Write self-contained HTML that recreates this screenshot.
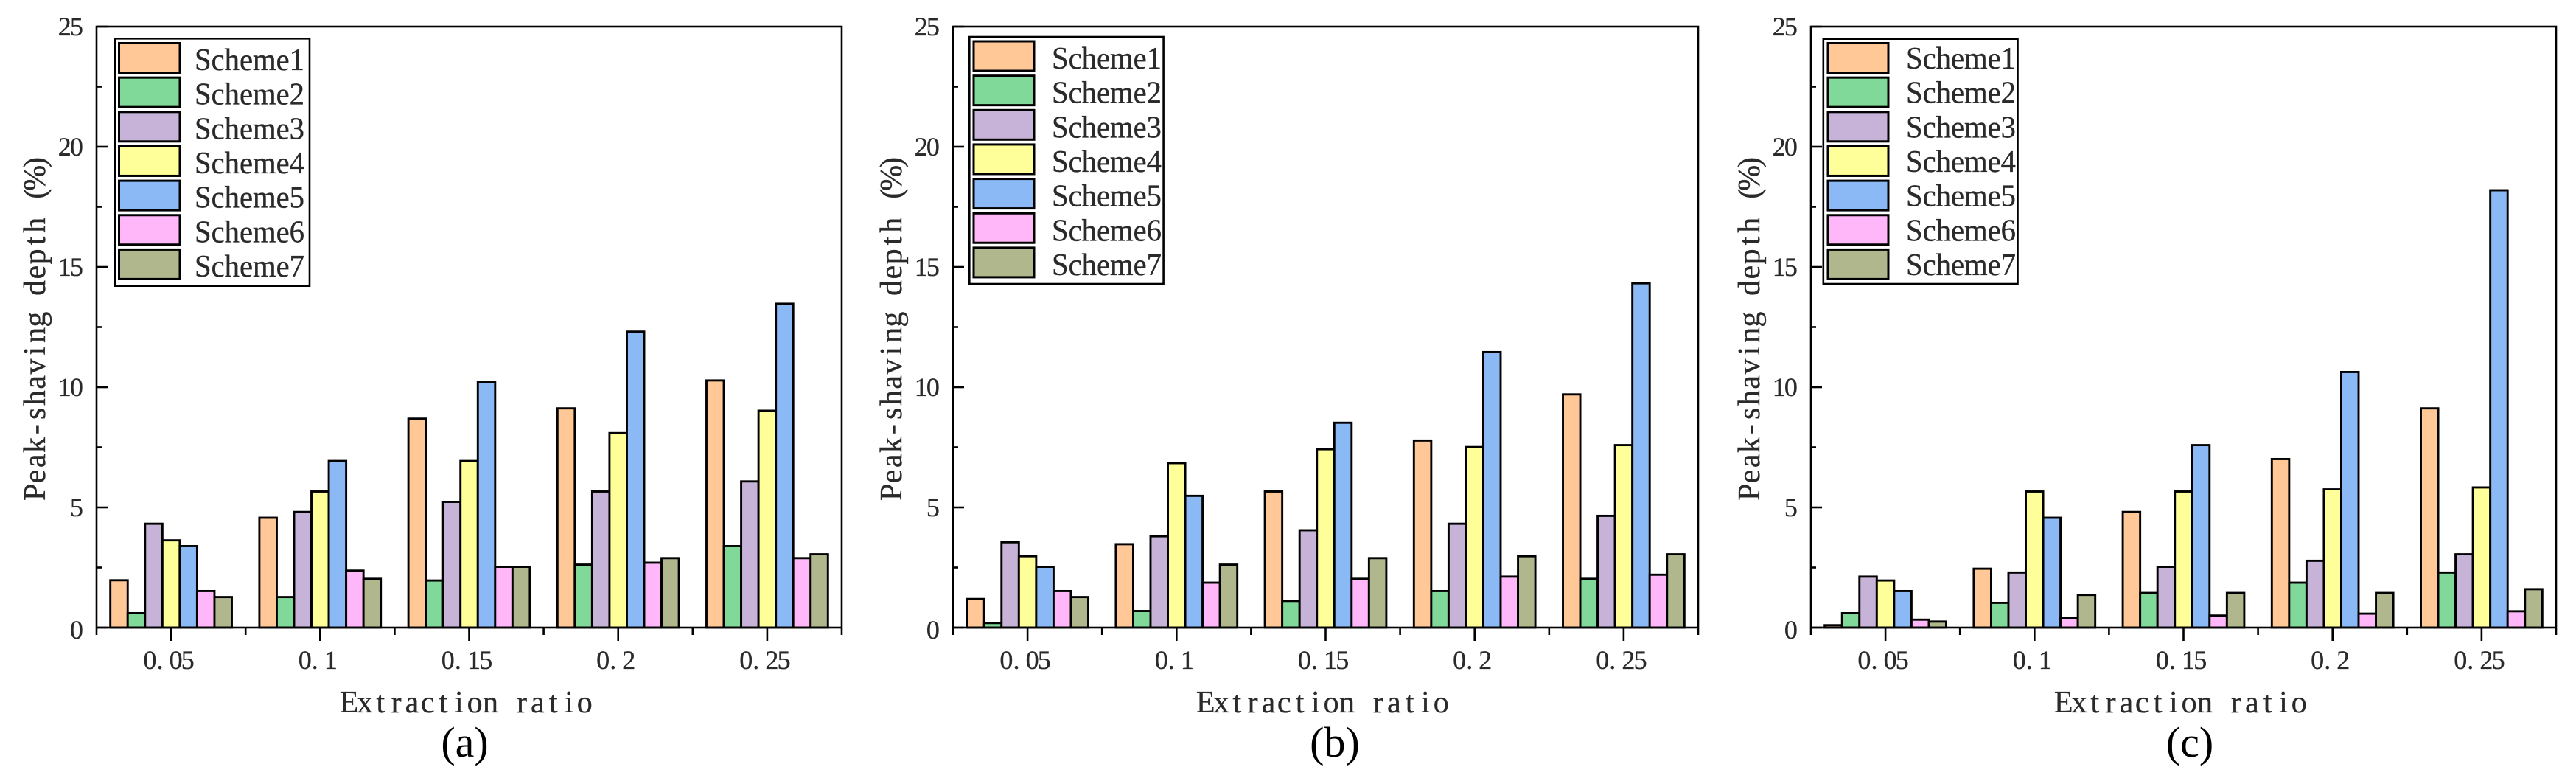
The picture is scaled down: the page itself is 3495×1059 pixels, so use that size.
<!DOCTYPE html>
<html lang="en">
<head>
<meta charset="utf-8">
<title>Peak-shaving depth versus extraction ratio</title>
<style>
  html, body { margin: 0; padding: 0; background: #fff; }
  svg { display: block; }
  text { font-family: "Liberation Serif", serif; fill: #2a2a2a; stroke: #2a2a2a; stroke-width: 0.35px; white-space: pre; }
</style>
</head>
<body>
<svg id="figure" xmlns="http://www.w3.org/2000/svg" width="3495" height="1059" viewBox="0 0 3495 1059">
  <rect x="0" y="0" width="3495" height="1059" fill="#ffffff"/>
</svg>
<script>
const schemeNames = ['Scheme1', 'Scheme2', 'Scheme3', 'Scheme4', 'Scheme5', 'Scheme6', 'Scheme7'];
const categories = ['0.05', '0.1', '0.15', '0.2', '0.25'];
const yTickLabels = [0, 5, 10, 15, 20, 25];
const yMinorTicks = [2.5, 7.5, 12.5, 17.5, 22.5];
const yAxisTitle = 'Peak-shaving depth (%)';
const xAxisTitle = 'Extraction ratio';

const panelAValues = [
  [1.97, 4.57, 8.69, 9.12, 10.28],
  [0.60, 1.27, 1.96, 2.62, 3.39],
  [4.32, 4.81, 5.23, 5.66, 6.08],
  [3.63, 5.66, 6.93, 8.09, 9.02],
  [3.39, 6.93, 10.20, 12.31, 13.47],
  [1.52, 2.37, 2.53, 2.70, 2.89],
  [1.27, 2.03, 2.53, 2.89, 3.05]
];
const panelBValues = [
  [1.19, 3.47, 5.66, 7.78, 9.70],
  [0.19, 0.69, 1.11, 1.52, 2.03],
  [3.55, 3.80, 4.05, 4.32, 4.65],
  [2.97, 6.84, 7.42, 7.51, 7.59],
  [2.53, 5.48, 8.52, 11.46, 14.32],
  [1.52, 1.87, 2.03, 2.12, 2.20],
  [1.27, 2.62, 2.89, 2.97, 3.05]
];
const panelCValues = [
  [0.10, 2.45, 4.81, 7.01, 9.12],
  [0.60, 1.03, 1.44, 1.87, 2.29],
  [2.12, 2.29, 2.53, 2.78, 3.05],
  [1.96, 5.66, 5.66, 5.75, 5.83],
  [1.52, 4.57, 7.59, 10.63, 18.19],
  [0.33, 0.41, 0.50, 0.58, 0.68],
  [0.25, 1.36, 1.44, 1.44, 1.60]
];

const schemeColors = ['#FFC896', '#80D998', '#C8B3D8', '#FFFF99', '#8AB9F5', '#FFB7FA', '#B0B78C'];

const panelLayouts = [
  { id: 'a', caption: '(a)', values: panelAValues, left: 131, captionX: 630.5,
    legend: { left: 155.7, right: 420, top: 52.3, bottom: 387.7, swatchLeft: 161.5, swatchRight: 244, swatchTop: 58.5, textX: 264, baseline: 95 } },
  { id: 'b', caption: '(b)', values: panelBValues, left: 1293, captionX: 1811,
    legend: { left: 1315.3, right: 1578.6, top: 50, bottom: 385, swatchLeft: 1321, swatchRight: 1403, swatchTop: 56, textX: 1427, baseline: 93 } },
  { id: 'c', caption: '(c)', values: panelCValues, left: 2457, captionX: 2971,
    legend: { left: 2473.8, right: 2737.5, top: 52.7, bottom: 385, swatchLeft: 2480, swatchRight: 2562, swatchTop: 58.5, textX: 2586, baseline: 93 } }
];

const SVG_NS = 'http://www.w3.org/2000/svg';
const figure = document.getElementById('figure');
const plotWidth = 1011;
const plotTop = 36;
const plotBottom = 851;
const yMax = 25;
const groupFill = 0.815;
const lineW = 2.6;
const barLineW = 2.9;
const measureCtx = document.createElement('canvas').getContext('2d');

function yScale(v) { return plotBottom - (v / yMax) * (plotBottom - plotTop); }
function bandWidth() { return plotWidth / categories.length; }
function xCenter(left, i) { return left + (i + 0.5) * bandWidth(); }
function barWidth() { return bandWidth() * groupFill / schemeNames.length; }
function xBar(left, cat, s) { return xCenter(left, cat) - bandWidth() * groupFill / 2 + s * barWidth(); }

function svgEl(tag, parent, attrs) {
  const el = document.createElementNS(SVG_NS, tag);
  for (const k in attrs) el.setAttribute(k, attrs[k]);
  parent.appendChild(el);
  return el;
}

/* Places each character in a fixed-width cell, so the serif text keeps the monospaced rhythm. */
function setCells(el, str, startX, size, cellFor) {
  measureCtx.font = size + 'px "Liberation Serif"';
  let cursor = startX;
  const xs = [];
  for (const c of str) {
    const cell = cellFor(c);
    const w = measureCtx.measureText(c).width;
    xs.push((c === '.' ? cursor + 1 : cursor + (cell - w) / 2).toFixed(2));
    cursor += cell;
  }
  el.setAttribute('x', xs.join(' '));
  el.setAttribute('font-size', size);
  el.textContent = str;
}

function digitCell(c) { return c === '.' ? 19 : 16.2; }
function labelWidth(str) { let t = 0; for (const c of str) t += digitCell(c); return t; }
function titleCell() { return 21.3; }

panelLayouts.forEach(function (p) {
  const group = svgEl('g', figure, {});
  
  

  /* bars */
  const barsGroup = svgEl('g', group, {});
  
  
  p.values.forEach(function (series, s) {
    series.forEach(function (v, c) {
      const bar = svgEl('rect', barsGroup, {
        x: xBar(p.left, c, s), y: yScale(v), width: barWidth(), height: plotBottom - yScale(v),
        fill: schemeColors[s], stroke: '#000', 'stroke-width': barLineW
      });
      
      
    });
  });

  /* frame */
  const frame = svgEl('rect', group, {
    x: p.left, y: plotTop, width: plotWidth, height: plotBottom - plotTop,
    fill: 'none', stroke: '#000', 'stroke-width': lineW
  });
  
  

  /* y ticks */
  yTickLabels.forEach(function (v) {
    const tick = svgEl('line', group, {
      x1: p.left, x2: p.left + 15, y1: yScale(v), y2: yScale(v), stroke: '#000', 'stroke-width': lineW
    });
    
    

    const str = String(v);
    const label = svgEl('text', group, { y: yScale(v) + 12 + (v === 0 ? 3 : 0) });
    
    
    setCells(label, str, p.left - 19 - labelWidth(str), 36, digitCell);
  });
  yMinorTicks.forEach(function (v) {
    const tick = svgEl('line', group, {
      x1: p.left, x2: p.left + 7, y1: yScale(v), y2: yScale(v), stroke: '#000', 'stroke-width': lineW
    });
    
    
  });

  /* x ticks */
  categories.forEach(function (cat, i) {
    const tick = svgEl('line', group, {
      x1: xCenter(p.left, i), x2: xCenter(p.left, i), y1: plotBottom, y2: plotBottom + 18, stroke: '#000', 'stroke-width': lineW
    });
    
    

    const label = svgEl('text', group, { y: 907 });
    
    
    setCells(label, cat, xCenter(p.left, i) - 3 - labelWidth(cat) / 2, 36, digitCell);
  });
  for (let i = 0; i <= categories.length; i++) {
    const x = p.left + i * bandWidth();
    const tick = svgEl('line', group, {
      x1: x, x2: x, y1: plotBottom, y2: plotBottom + 10, stroke: '#000', 'stroke-width': lineW
    });
    
    
  }

  /* axis titles and caption */
  const xTitle = svgEl('text', group, { y: 966 });
  
  
  setCells(xTitle, xAxisTitle, p.left + plotWidth / 2 - 3 - 8 * 21.3, 42, titleCell);

  const yTitle = svgEl('text', group, { y: 0, transform: 'translate(' + (p.left - 70) + ',678) rotate(-90)' });
  
  
  setCells(yTitle, yAxisTitle, 0, 42, titleCell);

  const caption = svgEl('text', group, {
    x: p.captionX, y: 1026, 'text-anchor': 'middle', 'font-size': 58, style: 'fill:#000;stroke:none'
  });
  
  
  caption.textContent = p.caption;

  /* legend */
  const L = p.legend;
  const legend = svgEl('g', group, {});
  
  
  const legendBox = svgEl('rect', legend, {
    x: L.left, y: L.top, width: L.right - L.left, height: L.bottom - L.top,
    fill: '#fff', stroke: '#000', 'stroke-width': lineW
  });
  
  
  schemeNames.forEach(function (name, s) {
    const swatch = svgEl('rect', legend, {
      x: L.swatchLeft, y: L.swatchTop + s * 46.65, width: L.swatchRight - L.swatchLeft, height: 40,
      fill: schemeColors[s], stroke: '#000', 'stroke-width': 3
    });
    
    

    const entry = svgEl('text', legend, {
      x: L.textX, y: L.baseline + s * 46.65, 'font-size': 42, textLength: 149, lengthAdjust: 'spacingAndGlyphs'
    });
    
    
    entry.textContent = name;
  });
});
</script>
</body>
</html>
